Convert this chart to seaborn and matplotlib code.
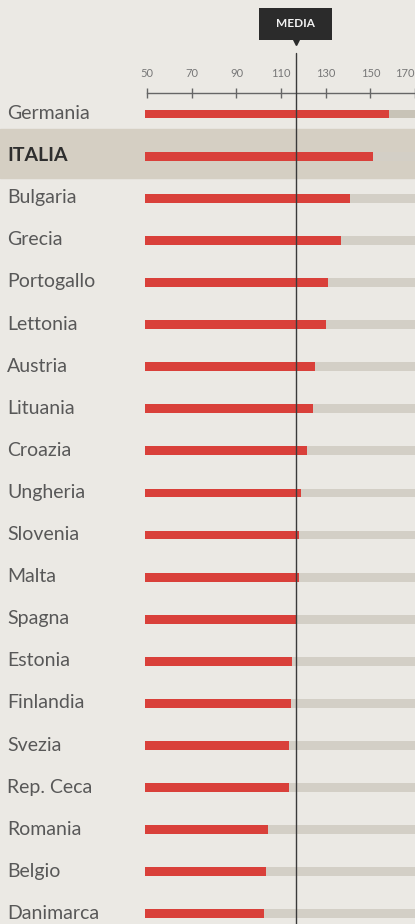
import matplotlib
matplotlib.use("Agg")
import matplotlib.pyplot as plt
import matplotlib.transforms as mtransforms
from matplotlib.patches import Rectangle
import seaborn as sns

# data
countries = ["Germania", "ITALIA", "Bulgaria", "Grecia", "Portogallo", "Lettonia",
             "Austria", "Lituania", "Croazia", "Ungheria", "Slovenia", "Malta",
             "Spagna", "Estonia", "Finlandia", "Svezia", "Rep. Ceca", "Romania",
             "Belgio", "Danimarca"]
values = [158.4, 151.3, 141, 137, 131, 130,
          125.4, 124.2, 121.7, 119, 118, 118,
          116.5, 115, 114.3, 113.6, 113.6, 103.9,
          103.2, 102.4]
track = [170] * len(countries)
media = 116.5
ticks = [50, 70, 90, 110, 130, 150, 170]

BG = "#ebe9e4"
RED = "#d9403a"
TRACK = "#d3cfc6"
BAND = "#d5cfc3"

sns.set_style("white")
plt.rcParams["font.family"] = ["Lato", "DejaVu Sans"]

fig = plt.figure(figsize=(4.15, 9.24), dpi=100, facecolor=BG)
ax = fig.add_axes([145 / 415, 0, 270 / 415, 831 / 924])
ax.set_facecolor(BG)

# highlight band for Italia, across the whole width
ax.axhspan(0.35, 1.53, xmin=-145 / 270, xmax=1, color=BAND, clip_on=False, zorder=0)

sns.barplot(x=track, y=countries, color=TRACK, width=0.21, saturation=1,
            linewidth=0, ax=ax, zorder=1)
sns.barplot(x=values, y=countries, color=RED, width=0.21, saturation=1,
            linewidth=0, ax=ax, zorder=2)
# slightly darker track on the band
ax.patches[1].set_facecolor("#c8c3b7")

ax.set_xlim(49, 169.5)
ax.set_ylim(19.24, -0.5)
ax.set_xlabel("")
ax.set_ylabel("")

# media line and label
trans = mtransforms.blended_transform_factory(ax.transData, ax.transAxes)
ax.axvline(media, ymin=0, ymax=1.048, color="#3a3a3a", lw=1.0, clip_on=False, zorder=5)
ax.add_patch(Rectangle((media - 16.2, 1.0638), 32.4, 0.0385, transform=trans,
                       facecolor="#2b2b2b", edgecolor="none", clip_on=False, zorder=6))
ax.plot([media], [1.0615], marker="v", markersize=5, color="#2b2b2b",
        transform=trans, clip_on=False, zorder=6)
ax.text(media, 1.0638 + 0.0385 / 2, "MEDIA", transform=trans, ha="center", va="center",
        color="#f2f2f2", fontsize=8.5, fontweight="bold", zorder=7)

# top axis with ticks
for s in ["left", "right", "bottom"]:
    ax.spines[s].set_visible(False)
ax.spines["top"].set_color("#666666")
ax.spines["top"].set_linewidth(1.0)
ax.spines["top"].set_bounds(50, 169.5)
ax.xaxis.tick_top()
ax.set_xticks(ticks)
ax.set_xticklabels([str(t) for t in ticks])
ax.tick_params(axis="x", direction="inout", length=6.5, width=1, color="#666666",
               labelsize=8, labelcolor="#777777", pad=7)
ax.get_xticklabels()[-1].set_horizontalalignment("right")

# country labels
ax.tick_params(axis="y", length=0, pad=138 * 0.72, labelsize=14, labelcolor="#585858")
for lab in ax.get_yticklabels():
    lab.set_horizontalalignment("left")
    lab.set_y(lab.get_position()[1])
    if lab.get_text() == "ITALIA":
        lab.set_fontweight("bold")
        lab.set_color("#2e2e2e")
offset = mtransforms.ScaledTranslation(0, 2 / 100, fig.dpi_scale_trans)
for lab in ax.get_yticklabels():
    lab.set_transform(lab.get_transform() + offset)

fig.savefig("out.png", dpi=100, facecolor=BG)
